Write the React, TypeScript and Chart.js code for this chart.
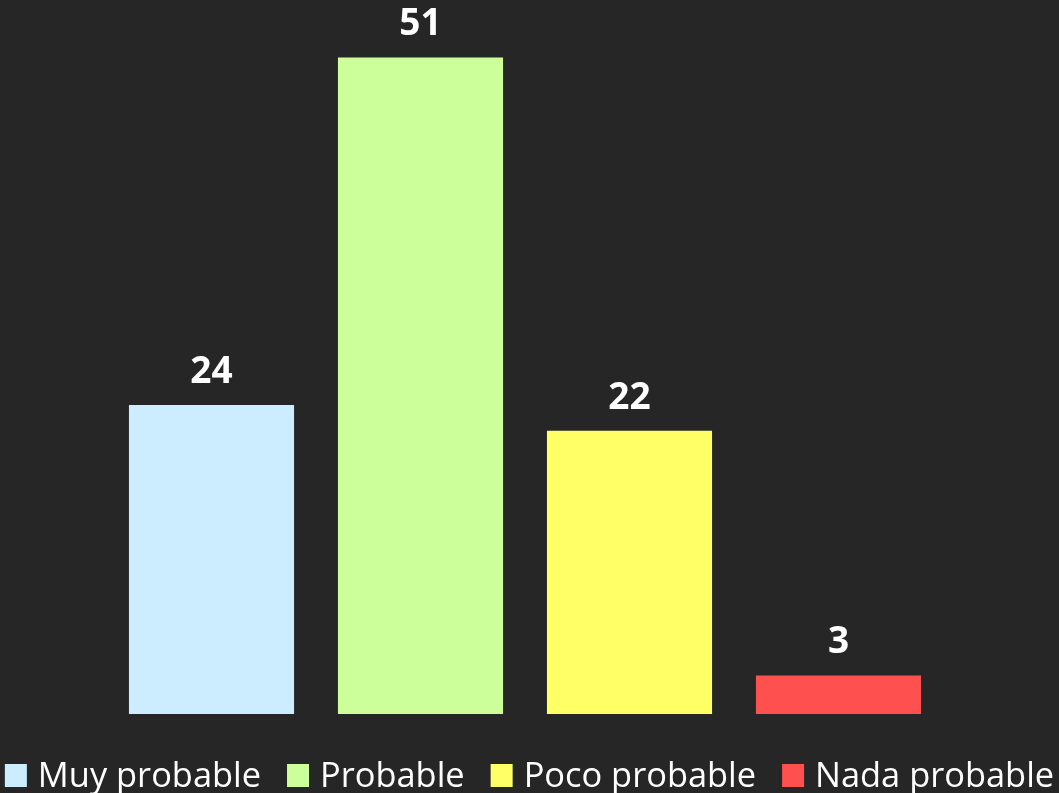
import React, { useEffect, useRef } from "react";
import { Chart, registerables } from "chart.js";

Chart.register(...registerables);

const categories = ["Muy probable", "Probable", "Poco probable", "Nada probable"];
const values = [24, 51, 22, 3];
const colors = ["#CCECFF", "#CCFF99", "#FFFF66", "#FF5050"];

const valueLabelPlugin = {
  id: "valueLabels",
  afterDatasetsDraw(chart: any) {
    const ctx = chart.ctx;
    ctx.save();
    ctx.fillStyle = "#FFFFFF";
    ctx.font = "bold 37px 'Open Sans'";
    ctx.textAlign = "center";
    ctx.textBaseline = "alphabetic";
    chart.data.datasets.forEach((ds: any, di: number) => {
      const meta = chart.getDatasetMeta(di);
      meta.data.forEach((bar: any, i: number) => {
        const v = ds.data[i];
        if (v === null || v === undefined) return;
        ctx.fillText(String(v), bar.x, bar.y - 22);
      });
    });
    ctx.restore();
  },
};

const bottomLegendPlugin = {
  id: "bottomLegend",
  afterDraw(chart: any) {
    const ctx = chart.ctx;
    ctx.save();
    ctx.font = "34.4px 'Open Sans'";
    ctx.textBaseline = "alphabetic";
    ctx.textAlign = "left";
    const box = 22;
    const boxGap = 11;
    const itemGap = 26;
    const items = chart.data.datasets.map((ds: any) => ({
      label: ds.label,
      color: ds.backgroundColor,
      w: ctx.measureText(ds.label).width,
    }));
    const total =
      items.reduce((s: number, it: any) => s + box + boxGap + it.w, 0) + itemGap * (items.length - 1);
    let x = (chart.width - total) / 2;
    const baseline = chart.height - 6;
    items.forEach((it: any) => {
      ctx.fillStyle = it.color;
      ctx.fillRect(x, baseline - 23, box, 23);
      x += box + boxGap;
      ctx.fillStyle = "#FFFFFF";
      ctx.fillText(it.label, x, baseline);
      x += it.w + itemGap;
    });
    ctx.restore();
  },
};

export default function App() {
  const ref = useRef<HTMLCanvasElement | null>(null);
  useEffect(() => {
    if (!ref.current) return;
    const datasets = categories.map((name, i) => ({
      label: name,
      data: categories.map((_, j) => (j === i ? values[i] : null)),
      backgroundColor: colors[i],
      borderWidth: 0,
      categoryPercentage: 1,
      barPercentage: 0.79,
      grouped: false,
    }));
    const chart = new Chart(ref.current, {
      type: "bar",
      data: { labels: categories, datasets },
      options: {
        responsive: false,
        animation: false,
        layout: { padding: { left: 107, right: 116, top: 6, bottom: 79 } },
        scales: {
          x: { display: false },
          y: { display: false, min: 0, max: 55 },
        },
        plugins: {
          tooltip: { enabled: false },
          legend: { display: false },
        },
      },
      plugins: [valueLabelPlugin, bottomLegendPlugin],
    });
    return () => chart.destroy();
  }, []);
  return (
    <div style={{ position: "absolute", left: 0, top: 0, width: 1059, height: 793, background: "#262626" }}>
      <canvas ref={ref} width={1059} height={793} />
    </div>
  );
}
